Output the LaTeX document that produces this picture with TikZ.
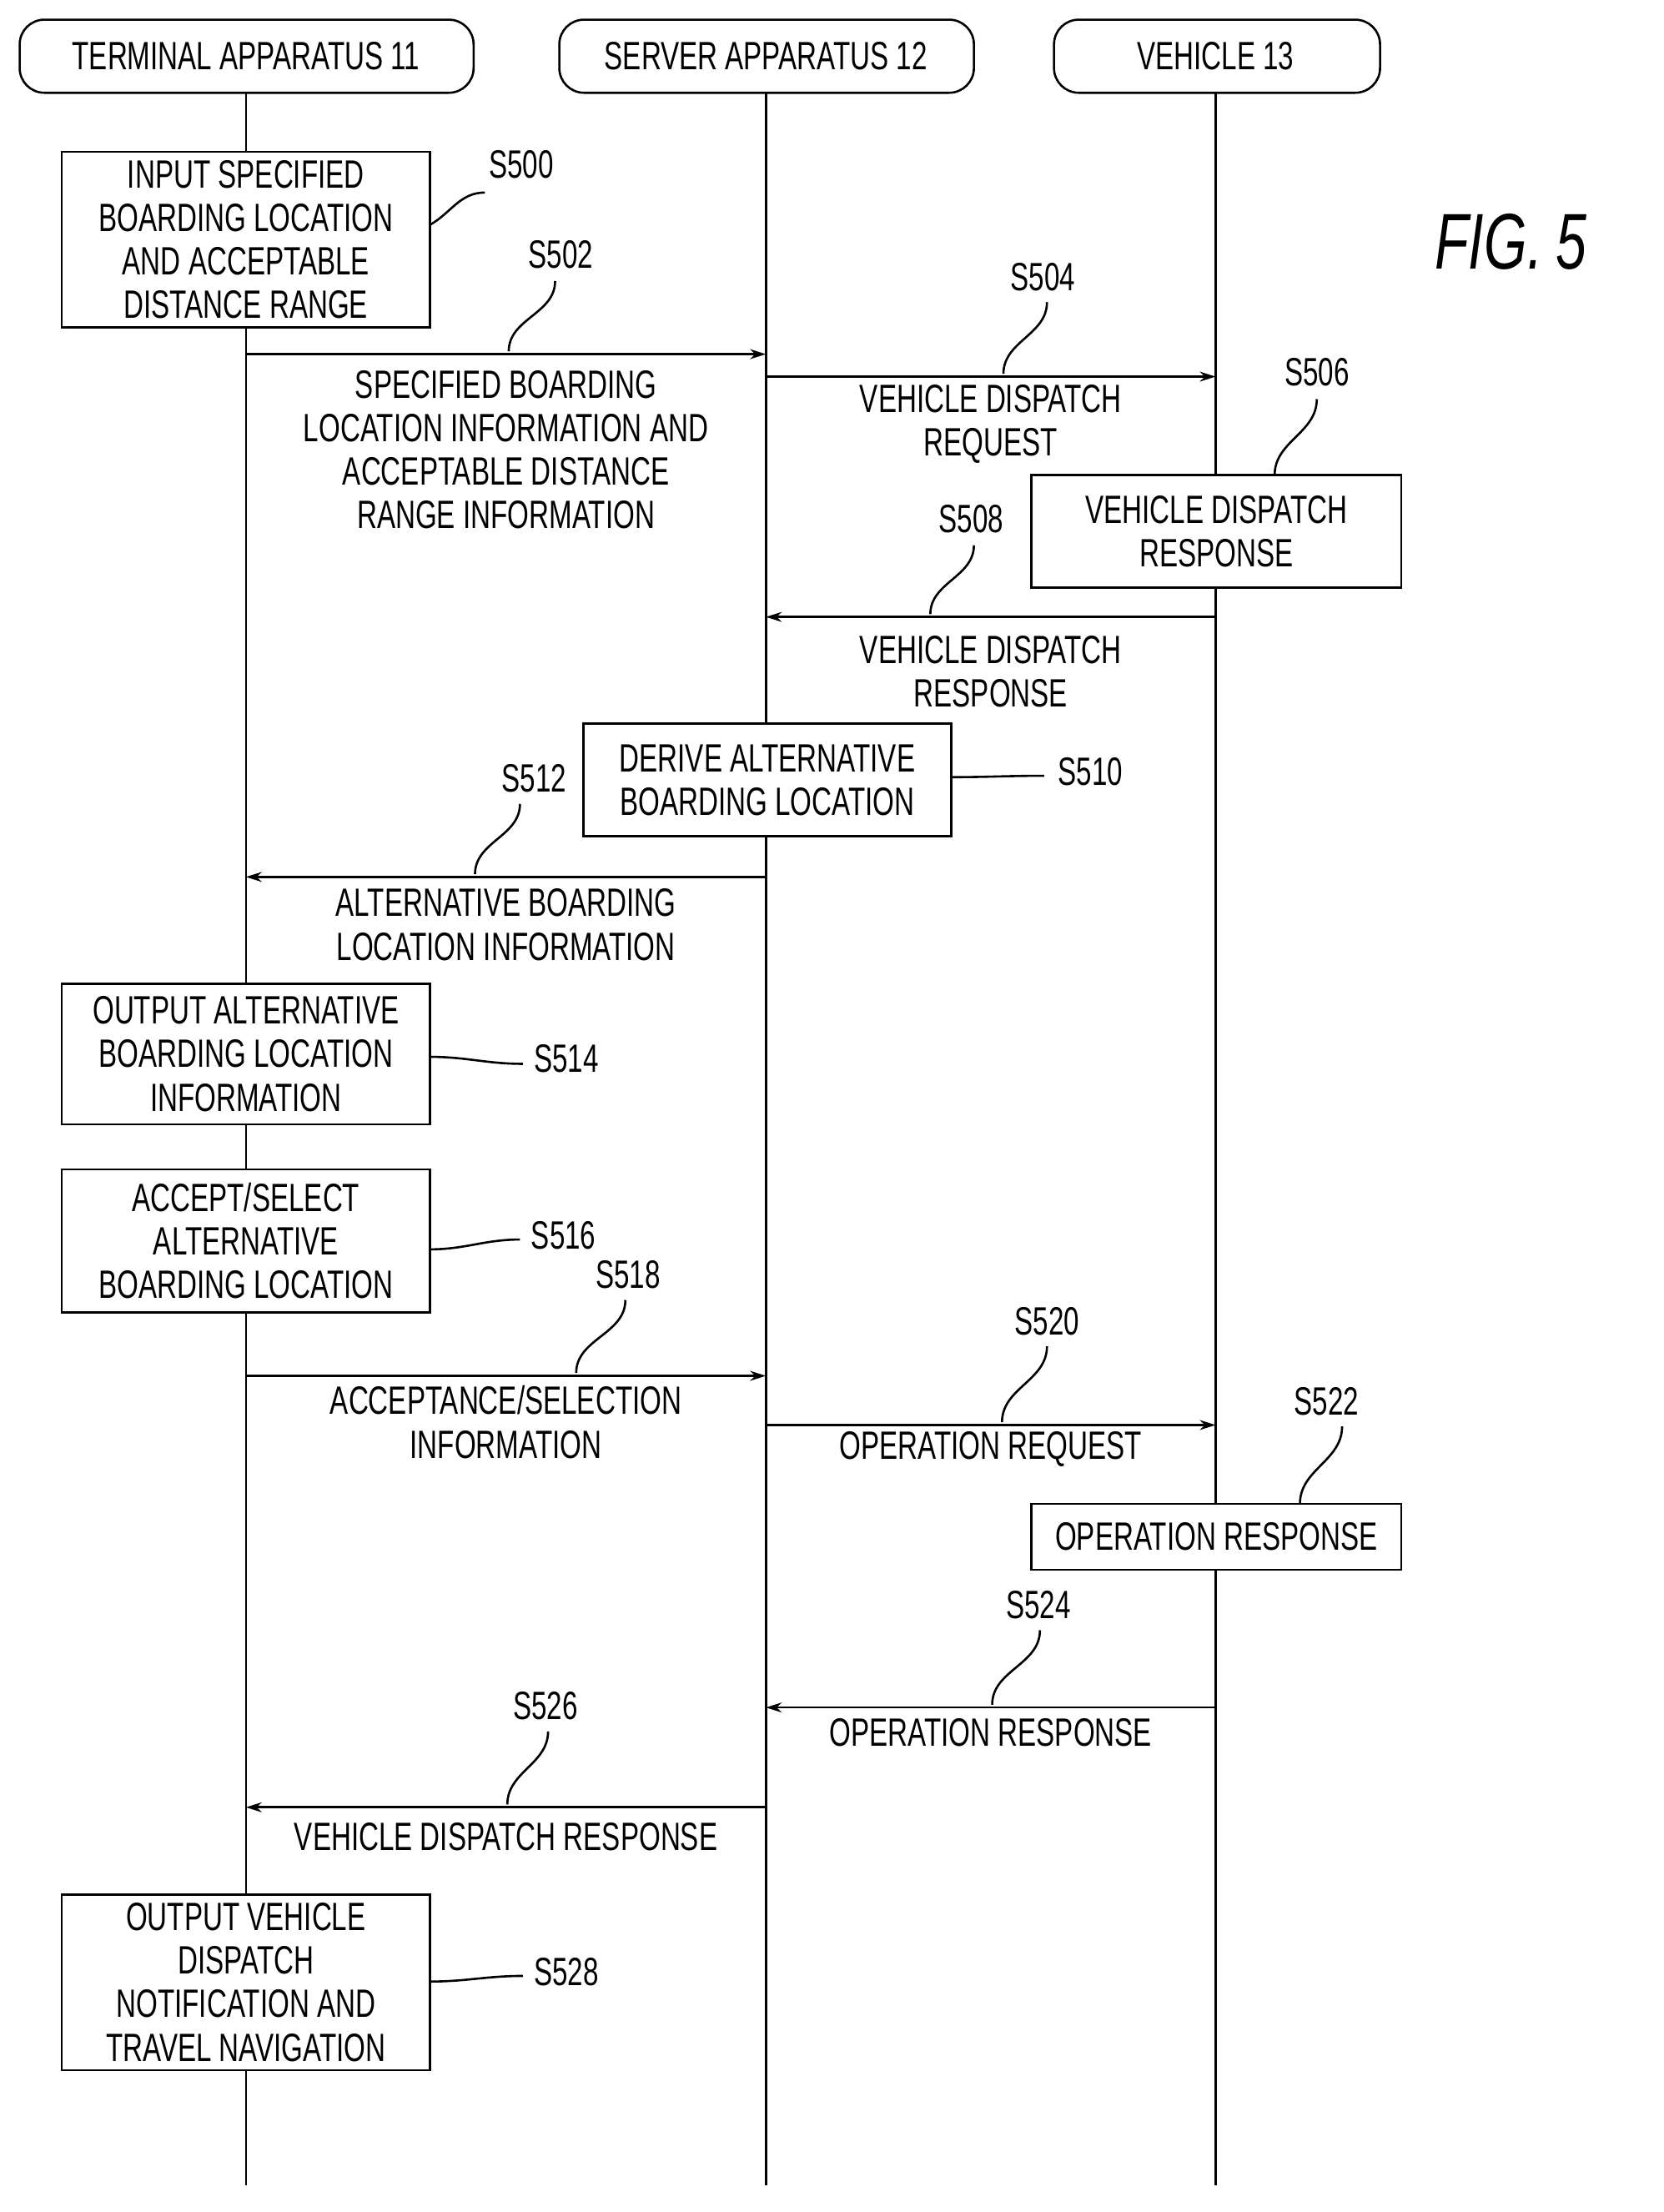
\documentclass[tikz,border=0pt]{standalone}
\usepackage{fontspec}
\setmainfont{Liberation Sans}[FakeStretch=0.7]
\usetikzlibrary{arrows.meta}
\begin{document}
\begin{tikzpicture}[x=0.05cm,y=-0.05cm,line width=2.2pt,
  every node/.style={font=\fontsize{40}{44}\selectfont,align=center,inner sep=0pt},
  head/.style={draw,rounded corners=26\pgflinewidth,minimum height=2.6cm},
  box/.style={draw,inner sep=4pt},
  msg/.style={-{Stealth[length=16pt,width=10pt]}},
  lab/.style={font=\fontsize{40}{44}\selectfont}]
\useasboundingbox (0,0) rectangle (1184,1574);
% heads
\draw[rounded corners=25pt] (14,14) rectangle (337,66);
\draw[rounded corners=25pt] (398,14) rectangle (693,66);
\draw[rounded corners=25pt] (750,14) rectangle (982,66);
\node (hT) at (175,40) {TERMINAL APPARATUS 11};
\node (hS) at (545,40) {SERVER APPARATUS 12};
\node (hV) at (865,40) {VEHICLE 13};
\coordinate (T0) at (175,66); \coordinate (T1) at (175,1555);
\coordinate (S0) at (545,66); \coordinate (S1) at (545,1555);
\coordinate (V0) at (865,66); \coordinate (V1) at (865,1555);
\draw (T0)--(T1); \draw (S0)--(S1); \draw (V0)--(V1);
\node[font=\fontsize{80}{80}\selectfont\itshape] (fig) at (1075,172) {FIG.\,5};
% boxes
\newcommand{\bx}[6]{\draw[fill=white] (#2,#3) rectangle (#4,#5); \node (#1) at ({(#2+#4)/2},{(#3+#5)/2}) {#6};}
\bx{b500}{44}{108}{306}{233}{INPUT SPECIFIED\\BOARDING LOCATION\\AND ACCEPTABLE\\DISTANCE RANGE}
\bx{b506}{734}{338}{997}{418}{VEHICLE DISPATCH\\RESPONSE}
\bx{b510}{415}{515}{677}{595}{DERIVE ALTERNATIVE\\BOARDING LOCATION}
\bx{b514}{44}{700}{306}{800}{OUTPUT ALTERNATIVE\\BOARDING LOCATION\\INFORMATION}
\bx{b516}{44}{832}{306}{934}{ACCEPT/SELECT\\ALTERNATIVE\\BOARDING LOCATION}
\bx{b522}{734}{1070}{997}{1117}{OPERATION RESPONSE}
\bx{b528}{44}{1348}{306}{1473}{OUTPUT VEHICLE\\DISPATCH\\NOTIFICATION AND\\TRAVEL NAVIGATION}
% arrows
\newcommand{\ar}[4]{\coordinate (#1a) at (#2,#4); \coordinate (#1b) at (#3,#4); \draw[msg] (#1a)--(#1b);}
\ar{m502}{175}{545}{252}
\ar{m504}{545}{865}{268}
\ar{m508}{865}{545}{439}
\ar{m512}{545}{175}{624}
\ar{m518}{175}{545}{979}
\ar{m520}{545}{865}{1014}
\ar{m524}{865}{545}{1215}
\ar{m526}{545}{175}{1286}
% message texts
\node (t502) at (360,320) {SPECIFIED BOARDING\\LOCATION INFORMATION AND\\ACCEPTABLE DISTANCE\\RANGE INFORMATION};
\node (t504) at (705,302) {VEHICLE DISPATCH\\REQUEST};
\node (t508) at (705,478) {VEHICLE DISPATCH\\RESPONSE};
\node (t512) at (360,658) {ALTERNATIVE BOARDING\\LOCATION INFORMATION};
\node (t518) at (360,1012) {ACCEPTANCE/SELECTION\\INFORMATION};
\node (t520) at (705,1031) {OPERATION REQUEST};
\node (t524) at (705,1233) {OPERATION RESPONSE};
\node (t526) at (360,1307) {VEHICLE DISPATCH RESPONSE};
% step labels
\node (l500) at (371,117) {S500};
\node (l502) at (399,181) {S502};
\node (l504) at (742,197) {S504};
\node (l506) at (937,265) {S506};
\node (l508) at (691,369) {S508};
\node (l510) at (776,549) {S510};
\node (l512) at (380,554) {S512};
\node (l514) at (403,753) {S514};
\node (l516) at (401,879) {S516};
\node (l518) at (447,907) {S518};
\node (l520) at (745,940) {S520};
\node (l522) at (944,997) {S522};
\node (l524) at (739,1142) {S524};
\node (l526) at (388,1214) {S526};
\node (l528) at (403,1403) {S528};
% squiggles
\newcommand{\sv}[4]{\draw (#1,#2) to[out=90,in=-90] (#3,#4);}
\newcommand{\sh}[4]{\draw (#1,#2) to[out=0,in=180] (#3,#4);}
\draw (306,160) to[out=30,in=180] (345,137);
\sv{362}{250}{395}{200}
\sv{714}{266}{745}{215}
\sv{907}{338}{937}{284}
\sv{662}{437}{693}{388}
\sh{677}{553}{743}{552}
\sv{338}{622}{370}{572}
\sh{306}{752}{372}{757}
\sh{306}{889}{370}{882}
\sv{410}{977}{445}{925}
\sv{713}{1012}{745}{958}
\sv{925}{1070}{955}{1015}
\sv{706}{1213}{740}{1160}
\sv{361}{1284}{390}{1232}
\sh{306}{1410}{372}{1406}
\end{tikzpicture}
\end{document}
